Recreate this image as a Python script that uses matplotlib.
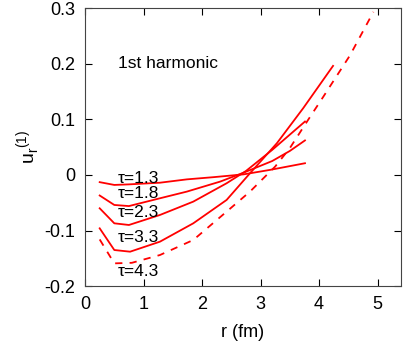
import numpy as np
import matplotlib
matplotlib.use('Agg')
import matplotlib.pyplot as plt

plt.rcParams['font.family'] = ['Liberation Sans', 'DejaVu Sans']

# tau = 1.3 ... 3.3 solid, 4.3 dashed
r_13 = [0.25, 0.5, 0.75, 1.28, 1.74, 2.2, 2.71, 3.16, 3.76]
u_13 = [-0.013, -0.018, -0.017, -0.014, -0.008, -0.004, 0.001, 0.009, 0.021]

r_18 = [0.25, 0.5, 0.75, 1.28, 1.74, 2.31, 2.71, 3.2, 3.5, 3.76]
u_18 = [-0.037, -0.054, -0.056, -0.042, -0.030, -0.012, 0.004, 0.025, 0.043, 0.062]

r_23 = [0.25, 0.5, 0.75, 1.28, 1.85, 2.42, 2.75, 3.2, 3.76]
u_23 = [-0.060, -0.087, -0.090, -0.072, -0.048, -0.015, 0.007, 0.045, 0.096]

r_33 = [0.25, 0.5, 0.77, 1.28, 1.85, 2.42, 2.82, 3.28, 3.73, 4.24]
u_33 = [-0.096, -0.135, -0.138, -0.120, -0.087, -0.045, 0.003, 0.057, 0.120, 0.196]

r_43 = [0.25, 0.5, 0.8, 1.28, 1.85, 2.42, 2.82, 3.25, 3.5, 3.82, 4.07, 4.53, 4.93]
u_43 = [-0.116, -0.159, -0.158, -0.144, -0.117, -0.066, -0.030, 0.015, 0.048, 0.100, 0.140, 0.215, 0.293]

labels = ['τ=1.3', 'τ=1.8', 'τ=2.3', 'τ=3.3', 'τ=4.3']
label_y = [-0.006, -0.033, -0.067, -0.112, -0.174]

fig = plt.figure(figsize=(4.07, 3.49), dpi=100)
ax = fig.add_axes([0.209, 0.18, 0.776, 0.797])

for r, u in [(r_13, u_13), (r_18, u_18), (r_23, u_23), (r_33, u_33)]:
    ax.plot(r, u, color='red', lw=1.3)
ax.plot(r_43, u_43, color='red', lw=1.3, ls=(0, (4, 4)))

for lab, yy in zip(labels, label_y):
    ax.text(0.56, yy, lab, fontsize=12.5, va='center', ha='left')
ax.text(0.56, 0.201, '1st harmonic', fontsize=12.5, va='center', ha='left')

ax.set_xlim(0, 5.4)
ax.set_ylim(-0.2, 0.3)
ax.set_xticks([0, 1, 2, 3, 4, 5])
ax.set_yticks([-0.2, -0.1, 0, 0.1, 0.2, 0.3])
ax.set_xticklabels(['0', '1', '2', '3', '4', '5'])
ax.set_yticklabels(['-0.2', '-0.1', '0', '0.1', '0.2', '0.3'])
ax.tick_params(direction='in', top=True, right=True, length=5, labelsize=13, pad=7)
for s in ax.spines.values():
    s.set_color('#444444')
ax.set_xlabel('r (fm)', fontsize=13, labelpad=8)
ax.set_ylabel(r'u$_\mathregular{r}$$^\mathregular{(1)}$', fontsize=14, labelpad=2)

fig.savefig('out.png', dpi=100)
